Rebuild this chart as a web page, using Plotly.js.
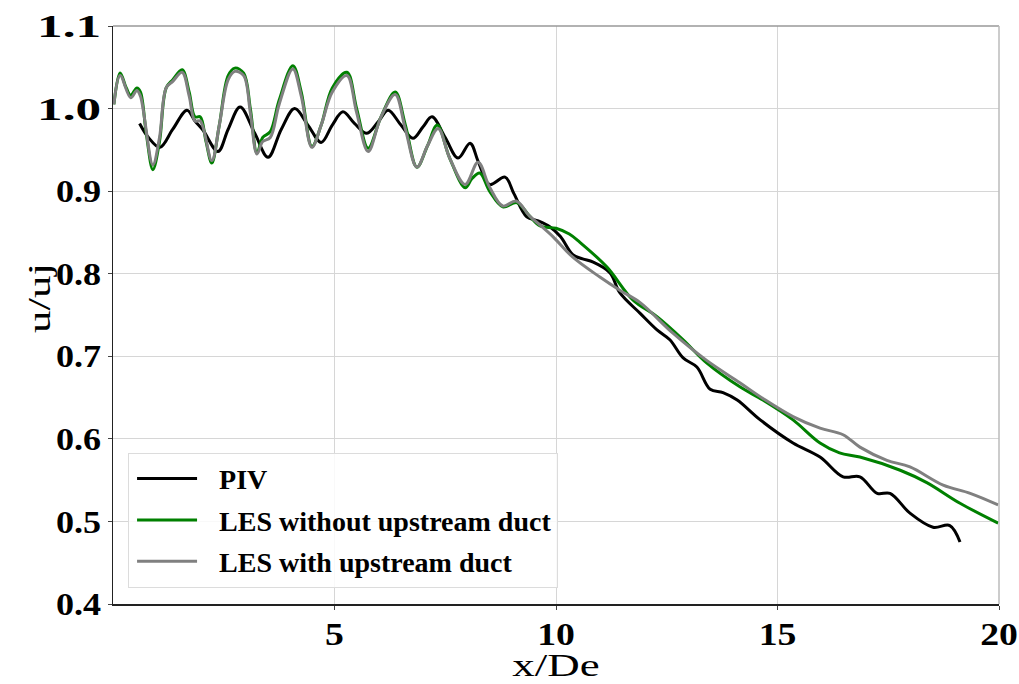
<!DOCTYPE html>
<html>
<head>
<meta charset="utf-8">
<script src="https://cdn.plot.ly/plotly-3.0.1.min.js"></script>
<style>html,body{margin:0;padding:0;background:#fff;}#chart{width:1019px;height:684px;}</style>
</head>
<body>
<div id="chart"></div>
<script>
const seriesNames = ["PIV", "LES without upstream duct", "LES with upstream duct"];

const pivX = [0.6,0.8,1.06,1.35,1.67,1.85,2.03,2.37,2.6,2.87,3.2,3.5,3.8,4.1,4.4,4.7,4.95,5.19,5.45,5.73,6.0,6.21,6.5,6.77,7.0,7.2,7.5,7.79,8.06,8.25,8.5,8.85,9.05,9.34,9.6,9.86,10.1,10.38,10.6,10.84,11.22,11.44,11.9,12.28,12.57,12.87,13.18,13.48,13.77,14.09,14.61,15.35,15.96,16.48,16.86,17.25,17.54,17.99,18.51,18.89,19.12];
const pivY = [0.982,0.965,0.953,0.975,0.998,0.985,0.974,0.948,0.975,1.002,0.97,0.941,0.975,1.0,0.98,0.959,0.98,0.996,0.982,0.97,0.985,0.998,0.98,0.964,0.978,0.99,0.965,0.94,0.958,0.935,0.908,0.917,0.897,0.869,0.864,0.857,0.845,0.823,0.818,0.814,0.801,0.777,0.752,0.732,0.72,0.698,0.687,0.66,0.656,0.647,0.623,0.595,0.578,0.554,0.554,0.534,0.534,0.51,0.493,0.495,0.475];

const lesNoDuctX = [0.02,0.16,0.3,0.4,0.54,0.62,0.75,0.9,1.05,1.2,1.35,1.56,1.72,1.85,1.97,2.1,2.23,2.4,2.6,2.75,2.95,3.1,3.25,3.38,3.55,3.75,4.06,4.25,4.49,4.7,4.95,5.28,5.5,5.76,6.05,6.37,6.6,6.86,7.1,7.32,7.6,7.95,8.1,8.28,8.5,8.8,9.12,9.4,9.64,10.0,10.3,10.54,11.15,11.74,12.28,12.87,13.4,14.15,14.67,15.35,15.96,16.4,16.86,17.77,18.37,19.12,19.98];
const lesNoDuctY = [1.005,1.043,1.025,1.016,1.025,1.02,0.97,0.926,0.96,1.025,1.035,1.047,1.02,0.99,0.99,0.96,0.934,0.98,1.04,1.049,1.043,1.0,0.946,0.965,0.972,1.01,1.052,1.02,0.954,0.98,1.025,1.044,1.0,0.952,0.99,1.02,0.98,0.929,0.955,0.98,0.94,0.904,0.915,0.922,0.9,0.881,0.886,0.87,0.858,0.855,0.848,0.838,0.808,0.768,0.748,0.72,0.692,0.663,0.647,0.623,0.595,0.583,0.578,0.562,0.547,0.522,0.498];

const lesDuctX = [0.02,0.16,0.4,0.54,0.62,0.9,1.05,1.2,1.35,1.56,1.72,1.85,1.97,2.23,2.4,2.6,2.75,2.95,3.1,3.25,3.38,3.55,3.75,4.06,4.25,4.49,4.7,4.95,5.28,5.5,5.76,6.05,6.37,6.6,6.86,7.1,7.34,7.6,7.95,8.24,8.5,8.8,9.1,9.4,9.64,9.93,10.38,10.99,11.44,11.9,12.64,13.4,14.15,14.67,15.35,15.96,16.48,16.86,17.47,17.99,18.74,19.35,19.98];
const lesDuctY = [1.005,1.04,1.013,1.022,1.015,0.932,0.965,1.025,1.033,1.044,1.015,0.985,0.985,0.937,0.98,1.035,1.045,1.04,0.995,0.945,0.96,0.965,1.005,1.048,1.015,0.953,0.98,1.02,1.04,0.995,0.948,0.99,1.017,0.975,0.929,0.955,0.976,0.94,0.908,0.935,0.905,0.882,0.888,0.87,0.859,0.845,0.82,0.796,0.78,0.765,0.728,0.695,0.668,0.649,0.627,0.613,0.605,0.59,0.574,0.566,0.544,0.534,0.52];

const xTickVals = [5, 10, 15, 20];
const xTickText = ["5", "10", "15", "20"];
const yTickVals = [0.4, 0.5, 0.6, 0.7, 0.8, 0.9, 1.0, 1.1];
const yTickText = ["0.4", "0.5", "0.6", "0.7", "0.8", "0.9", "1.0", "1.1"];

const serif = "Liberation Serif, Times New Roman, serif";

const traces = [
  {x: pivX, y: pivY, name: seriesNames[0], mode: "lines", legendgroup: "a",
   line: {color: "#000000", width: 3, shape: "spline", smoothing: 1}},
  {x: lesNoDuctX, y: lesNoDuctY, name: seriesNames[1], mode: "lines", legendgroup: "b",
   line: {color: "#008000", width: 3, shape: "spline", smoothing: 1}},
  {x: lesDuctX, y: lesDuctY, name: seriesNames[2], mode: "lines", legendgroup: "c",
   line: {color: "#808080", width: 3, shape: "spline", smoothing: 1}}
];

const layout = {
  width: 1019, height: 684,
  margin: {l: 113, r: 20, t: 26, b: 80},
  paper_bgcolor: "#ffffff", plot_bgcolor: "#ffffff",
  showlegend: true,
  legend: {
    x: 0.017, y: 0.028, xanchor: "left", yanchor: "bottom",
    bgcolor: "rgba(255,255,255,0.85)", bordercolor: "#dcdcdc", borderwidth: 1,
    font: {family: serif, size: 28, color: "#000", weight: "bold"},
    traceorder: "grouped", tracegroupgap: 2, itemwidth: 80
  },
  xaxis: {
    range: [0, 20], tickvals: xTickVals, ticktext: xTickText,
    showgrid: true, gridcolor: "#d6d6d6", gridwidth: 1,
    showline: true, linecolor: "#222", linewidth: 1.5,
    ticks: "outside", ticklen: 4, tickcolor: "#444",
    zeroline: false,
    tickfont: {family: serif, size: 32, color: "#000", weight: "bold"},
    title: {text: "x/De", font: {family: serif, size: 31, color: "#000"}}
  },
  yaxis: {
    range: [0.4, 1.1], tickvals: yTickVals, ticktext: yTickText,
    showgrid: true, gridcolor: "#d6d6d6", gridwidth: 1,
    showline: true, linecolor: "#222", linewidth: 1.5,
    ticks: "outside", ticklen: 4, tickcolor: "#444",
    zeroline: false,
    tickfont: {family: serif, size: 32, color: "#000", weight: "bold"},
    title: {text: "u/uj", font: {family: serif, size: 31, color: "#000"}}
  },
  shapes: [
    {type: "line", xref: "paper", yref: "paper", x0: 0, x1: 1, y0: 1, y1: 1, line: {color: "#999", width: 1.5}},
    {type: "line", xref: "paper", yref: "paper", x0: 1, x1: 1, y0: 0, y1: 1, line: {color: "#bbb", width: 1.5}}
  ]
};

function stretch(el, s) {
  const x = parseFloat(el.getAttribute("x")) || 0;
  const y = parseFloat(el.getAttribute("y")) || 0;
  const t = el.getAttribute("transform") || "";
  el.setAttribute("transform", t + " translate(" + x + "," + y + ") scale(" + s + ",1) translate(" + (-x) + "," + (-y) + ")");
}
function shift(el, dx, dy) {
  const t = el.getAttribute("transform") || "";
  el.setAttribute("transform", "translate(" + dx + "," + dy + ") " + t);
}
function moveCenter(el, cx, cy) {
  const r = el.getBoundingClientRect();
  shift(el, cx - (r.left + r.width / 2), cy - (r.top + r.height / 2));
}

Plotly.newPlot("chart", traces, layout, {displayModeBar: false, staticPlot: true}).then(function (gd) {
  gd.querySelectorAll(".ytick text").forEach(function (el) {
    const txt = el.textContent.trim();
    stretch(el, txt.charAt(0) === "1" ? 1.6 : 1.13);
  });
  gd.querySelectorAll(".xtick text").forEach(function (el) {
    stretch(el, 1.18);
    shift(el, 0, -3);
  });
  const xt = gd.querySelector(".g-xtitle text");
  const yt = gd.querySelector(".g-ytitle text");
  if (xt) { stretch(xt, 1.45); moveCenter(xt, 556, 666); }
  if (yt) { stretch(yt, 1.45); moveCenter(yt, 40, 298); }
  gd.querySelectorAll(".legend .legendlines path").forEach(function (p) {
    p.setAttribute("d", "M8,0h60");
  });
});
</script>
</body>
</html>
